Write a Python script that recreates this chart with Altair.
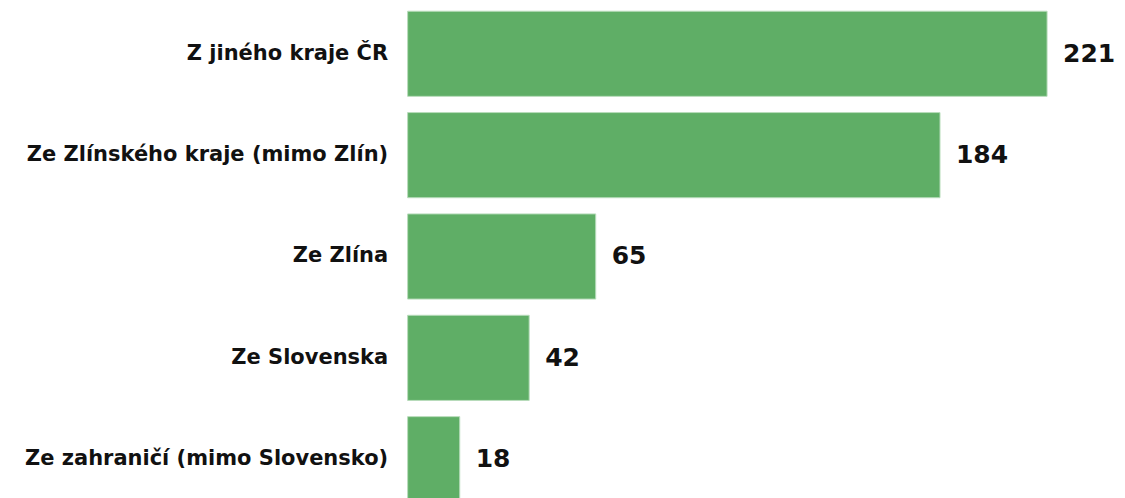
import altair as alt
import pandas as pd

categories = [
    "Z jiného kraje ČR",
    "Ze Zlínského kraje (mimo Zlín)",
    "Ze Zlína",
    "Ze Slovenska",
    "Ze zahraničí (mimo Slovensko)",
]
values = [221, 184, 65, 42, 18]

df = pd.DataFrame({"cat": categories, "val": values})

y = alt.Y(
    "cat:N",
    sort=categories,
    title=None,
    scale=alt.Scale(paddingInner=0.16, paddingOuter=0),
    axis=alt.Axis(
        ticks=False,
        domain=False,
        grid=False,
        labelPadding=20,
        labelFont="DejaVu Sans",
        labelFontWeight="bold",
        labelFontSize=21,
        labelColor="#111111",
        labelLimit=400,
    ),
)
x = alt.X("val:Q", title=None, scale=alt.Scale(domain=[0, 221], nice=False), axis=None)

bars = alt.Chart(df).mark_bar(color="#5fae66", stroke="#b8dcbb", strokeWidth=1).encode(x=x, y=y)
text = alt.Chart(df).mark_text(
    align="left", baseline="middle", dx=16, font="DejaVu Sans", fontWeight="bold", fontSize=25, color="#111111"
).encode(x=x, y=y, text="val:Q")

chart = (
    (bars + text)
    .properties(
        width=640,
        height=491,
        background="white",
        autosize=alt.AutoSizeParams(type="none"),
        padding={"left": 400, "top": 3, "right": 70, "bottom": 0},
    )
    .configure_view(stroke=None, strokeWidth=0)
)

chart.save("out.html", embed_options={"renderer": "svg", "actions": False})
